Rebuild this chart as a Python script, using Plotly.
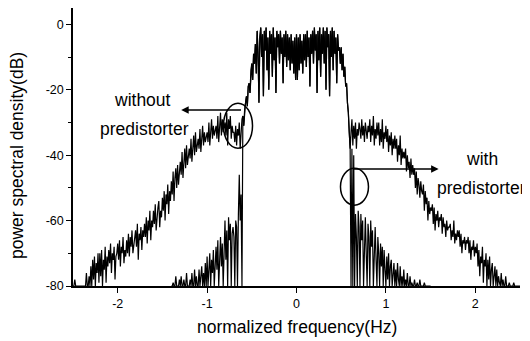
import numpy as np
import plotly.graph_objects as go

# ---------------- data (dB values, 0.01 Hz spacing) ----------------
FREQ_STEP = 0.01

# without predistorter, left skirt: -2.50 ... -0.61
without_left_start = -2.50
without_left_db = [
    -80, -80, -78, -80, -80, -80, -80, -80, -80, -80,
    -80, -80, -80, -80, -80, -76, -80, -80, -77, -80,
    -74, -80, -72, -78, -71, -80, -73, -76, -70, -79,
    -70, -77, -69, -80, -72, -75, -68, -79, -71, -74,
    -69, -73, -67, -76, -70, -72, -68, -78, -71, -70,
    -67, -72, -66, -74, -68, -70, -65, -73, -69, -71,
    -66, -70, -64, -71, -65, -68, -63, -70, -67, -66,
    -63, -68, -61, -72, -64, -66, -62, -69, -63, -65,
    -61, -65, -59, -67, -60, -63, -57, -66, -60, -62,
    -57, -61, -55, -63, -58, -56, -54, -62, -57, -59,
    -53, -57, -51, -60, -52, -55, -49, -58, -51, -54,
    -48, -52, -45, -54, -47, -44, -50, -43, -49, -46,
    -42, -46, -39, -47, -41, -38, -44, -37, -43, -40,
    -38, -41, -35, -42, -37, -34, -40, -33, -39, -36,
    -35, -38, -32, -39, -34, -31, -37, -33, -36, -34,
    -33, -36, -30, -37, -32, -29, -35, -31, -34, -32,
    -31, -35, -28, -36, -30, -27, -34, -29, -33, -31,
    -30, -34, -27, -37, -29, -32, -28, -35, -31, -33,
    -33, -36, -31, -37, -32, -34, -30, -38, -31, -29,
]

# shared in-band part (both curves): -0.60 ... 0.60
band_start = -0.60
band_db = [
    -28, -31, -26, -24, -22, -25, -19, -18, -21, -14,
    -12, -17, -9, -12, -6, -15, -2, -9, -24, -4,
    -1, -10, -3, -22, -2, -8, -1, -14, -4, -20,
    -2, -9, -3, -16, -1, -11, -4, -21, -2, -7,
    -3, -12, -2, -9, -4, -18, -3, -10, -2, -13,
    -3, -11, -4, -14, -3, -12, -5, -15, -4, -17,
    -3, -17, -4, -14, -3, -12, -5, -15, -3, -11,
    -3, -13, -2, -10, -4, -19, -3, -9, -2, -12,
    -1, -8, -3, -21, -2, -11, -1, -16, -3, -9,
    -1, -12, -2, -20, -1, -7, -3, -22, -2, -10,
    -1, -14, -2, -9, -4, -18, -3, -8, -7, -12,
    -7, -14, -9, -16, -13, -19, -18, -24, -27, -33,
    -38,
]

# without predistorter, right skirt: 0.61 ... 2.50
without_right_start = 0.61
without_right_db = [
    -33, -29, -37, -31, -35, -30, -38, -32, -34, -30,
    -32, -35, -29, -34, -31, -36, -30, -33, -35, -31,
    -33, -29, -36, -31, -34, -28, -37, -32, -35, -30,
    -34, -30, -37, -32, -36, -29, -38, -33, -35, -31,
    -36, -32, -39, -34, -37, -33, -40, -35, -38, -34,
    -38, -35, -42, -37, -40, -34, -43, -38, -41, -39,
    -41, -38, -45, -40, -44, -42, -47, -41, -46, -43,
    -46, -44, -50, -45, -52, -47, -49, -53, -48, -51,
    -52, -49, -57, -51, -55, -53, -60, -54, -58, -56,
    -57, -55, -61, -56, -63, -58, -60, -57, -62, -59,
    -60, -58, -64, -59, -62, -61, -65, -60, -63, -62,
    -62, -61, -66, -63, -65, -60, -67, -64, -66, -63,
    -65, -63, -68, -64, -70, -66, -67, -65, -69, -66,
    -67, -65, -70, -66, -72, -68, -69, -66, -71, -68,
    -70, -67, -74, -69, -77, -71, -73, -68, -79, -72,
    -74, -70, -80, -72, -78, -71, -80, -75, -73, -80,
    -76, -74, -80, -75, -80, -77, -79, -80, -76, -80,
    -78, -80, -80, -77, -80, -80, -80, -79, -80, -80,
    -80, -80, -79, -80, -80, -80, -80, -80, -80, -80,
]

# with predistorter, left skirt: -1.40 ... -0.61
with_left_start = -1.40
with_left_db = [
    -80, -80, -79, -80, -80, -77, -80, -80, -80, -78,
    -80, -77, -80, -80, -78, -80, -80, -76, -80, -80,
    -80, -78, -80, -76, -80, -80, -75, -80, -77, -80,
    -80, -75, -80, -77, -74, -80, -76, -80, -73, -80,
    -71, -80, -74, -70, -80, -72, -76, -69, -80, -73,
    -68, -75, -66, -80, -70, -65, -74, -67, -80, -64,
    -60, -72, -63, -80, -59, -66, -61, -80, -64, -62,
    -65, -80, -60, -62, -80, -58, -46, -60, -52, -80,
]

# with predistorter, right skirt: 0.61 ... 1.50
with_right_start = 0.61
with_right_db = [
    -80, -38, -80, -40, -80, -58, -65, -80, -57, -62,
    -80, -58, -66, -60, -80, -63, -59, -70, -80, -61,
    -65, -80, -60, -68, -63, -80, -66, -62, -72, -80,
    -65, -70, -80, -67, -74, -68, -80, -69, -75, -80,
    -71, -78, -70, -80, -74, -72, -80, -76, -73, -80,
    -75, -80, -73, -78, -80, -74, -80, -77, -80, -75,
    -80, -78, -80, -76, -80, -80, -77, -80, -79, -80,
    -80, -78, -80, -80, -79, -80, -80, -78, -80, -80,
    -80, -80, -79, -80, -80, -80, -80, -80, -80, -80,
]

x_tick_vals = [-2, -1, 0, 1, 2]
x_tick_text = ["-2", "-1", "0", "1", "2"]
y_tick_vals = [0, -20, -40, -60, -80]
y_tick_text = ["0", "-20", "-40", "-60", "-80"]


def grid(start, values):
    return np.round(start + FREQ_STEP * np.arange(len(values)), 2)


without_f = np.concatenate([grid(without_left_start, without_left_db),
                            grid(band_start, band_db),
                            grid(without_right_start, without_right_db)])
without_db = without_left_db + band_db + without_right_db

with_f = np.concatenate([grid(with_left_start, with_left_db),
                         grid(band_start, band_db),
                         grid(with_right_start, with_right_db)])
with_db = with_left_db + band_db + with_right_db

FONT = "Liberation Sans, Arial, Helvetica, sans-serif"

fig = go.Figure()
fig.add_trace(go.Scatter(x=without_f, y=without_db, mode="lines",
                         line=dict(color="black", width=1.2), name="without predistorter"))
fig.add_trace(go.Scatter(x=with_f, y=with_db, mode="lines",
                         line=dict(color="black", width=1.2), name="with predistorter"))

# the page body has an 8px margin, so the figure is 8px smaller than the window
fig.update_layout(
    width=522, height=333,
    margin=dict(l=65, r=10, t=0, b=55),
    paper_bgcolor="white", plot_bgcolor="white",
    showlegend=False,
    font=dict(family=FONT, color="black", size=12),
    xaxis=dict(range=[-2.5, 2.5], tickvals=x_tick_vals, ticktext=x_tick_text,
               showgrid=False, zeroline=False, showline=True, linecolor="black",
               linewidth=1.5, ticks="outside", ticklen=5, tickwidth=1.2, tickcolor="black",
               tickfont=dict(size=12.5, family=FONT, color="black")),
    yaxis=dict(range=[-80, 5], tickvals=y_tick_vals, ticktext=y_tick_text,
               showgrid=False, zeroline=False, showline=True, linecolor="black",
               linewidth=1.5, ticks="outside", ticklen=5, tickwidth=1.2, tickcolor="black",
               tickfont=dict(size=12.5, family=FONT, color="black"),
               minor=dict(dtick=10, ticks="outside", ticklen=3, tickcolor="black")),
)

fig.add_annotation(text="normalized frequency(Hz)", xref="paper", yref="paper",
                   x=0.501, y=-0.147, showarrow=False, font=dict(size=17.5, family=FONT),
                   xanchor="center", yanchor="middle")
fig.add_annotation(text="power spectral density(dB)", xref="paper", yref="paper",
                   x=-0.125, y=0.468, textangle=-90, showarrow=False,
                   font=dict(size=17.5, family=FONT), xanchor="center", yanchor="middle")

# labels
fig.add_annotation(text="without", x=-1.72, y=-23.2, showarrow=False,
                   font=dict(size=17.5, family=FONT))
fig.add_annotation(text="predistorter", x=-1.70, y=-32.0, showarrow=False,
                   font=dict(size=17.5, family=FONT))
fig.add_annotation(text="with", x=2.08, y=-41.2, showarrow=False,
                   font=dict(size=17.5, family=FONT))
fig.add_annotation(text="predistorter", x=2.07, y=-50.0, showarrow=False,
                   font=dict(size=17.5, family=FONT))

# arrows
fig.add_annotation(x=-1.29, y=-26.2, ax=-0.604, ay=-26.2, axref="x", ayref="y",
                   xref="x", yref="y", text="", showarrow=True, arrowhead=2,
                   arrowsize=1, arrowwidth=1.5, arrowcolor="black")
fig.add_annotation(x=1.59, y=-44.2, ax=0.615, ay=-44.2, axref="x", ayref="y",
                   xref="x", yref="y", text="", showarrow=True, arrowhead=2,
                   arrowsize=1, arrowwidth=1.5, arrowcolor="black")

# ellipses
fig.add_shape(type="circle", xref="x", yref="y", x0=-0.817, x1=-0.492, y0=-37.9, y1=-24.1,
              line=dict(color="black", width=1.5))
fig.add_shape(type="circle", xref="x", yref="y", x0=0.492, x1=0.805, y0=-55.3, y1=-44.0,
              line=dict(color="black", width=1.5))

fig.write_html("out.html")
